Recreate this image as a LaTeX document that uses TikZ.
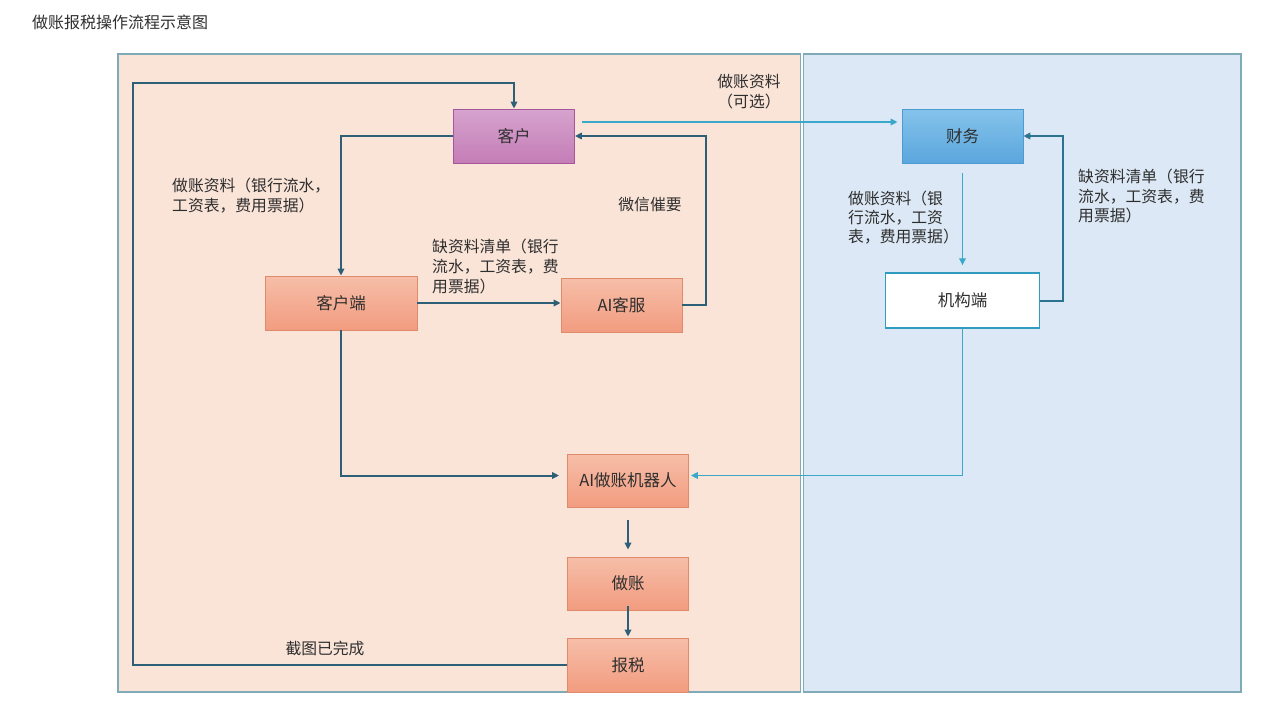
\documentclass[tikz,border=0pt]{standalone}
\usepackage{fontspec}
\setmainfont{Noto Sans CJK SC}
\usetikzlibrary{arrows.meta,calc}
\definecolor{peach}{HTML}{FAE4D8}
\definecolor{skyfill}{HTML}{DCE8F5}
\definecolor{panelline}{HTML}{7FAAB8}
\definecolor{darkline}{HTML}{2D5F77}
\definecolor{midline}{HTML}{2C7390}
\definecolor{lightline}{HTML}{3AA8C8}
\definecolor{txt}{HTML}{2E2E2E}
\definecolor{salmontop}{HTML}{F6BEA8}
\definecolor{salmonbot}{HTML}{F29C80}
\definecolor{salmonline}{HTML}{E08A6C}
\definecolor{purpletop}{HTML}{D6A3CE}
\definecolor{purplebot}{HTML}{C47DB6}
\definecolor{purpleline}{HTML}{A8569A}
\definecolor{bluetop}{HTML}{85C3EB}
\definecolor{bluebot}{HTML}{5AA6DD}
\definecolor{blueline}{HTML}{4C9BD1}
\definecolor{jgline}{HTML}{2E9BBF}
\tikzset{
  box/.style={rectangle, minimum width=121pt, minimum height=54pt, inner sep=0pt,
    font=\fontsize{16.5}{18}\selectfont, text=txt, line width=0.8pt},
  salmonbox/.style={box, draw=salmonline, top color=salmontop, bottom color=salmonbot},
  purplebox/.style={box, draw=purpleline, top color=purpletop, bottom color=purplebot},
  bluebox/.style={box, draw=blueline, top color=bluetop, bottom color=bluebot},
  whitebox/.style={box, draw=jgline, fill=white, line width=1.5pt},
  darkarrow/.style={draw=darkline, line width=2pt, -{Triangle[length=7pt,width=6.5pt]}},
  midarrow/.style={draw=midline, line width=2pt, -{Triangle[length=7pt,width=6.5pt]}},
  lightarrow/.style={draw=lightline, line width=1.9pt, -{Triangle[length=7pt,width=6.5pt]}},
  lbl/.style={font=\fontsize{15.8}{20}\selectfont, text=txt, align=left, inner sep=0pt, anchor=north west},
  panel/.style={draw=panelline, line width=1.2pt}
}
\begin{document}
\begin{tikzpicture}[x=1pt,y=-1pt]
\useasboundingbox (0,0) rectangle (1262,710);
\fill[white] (0,0) rectangle (1262,710);
% title
\node[font=\fontsize{16}{18}\selectfont, text=txt, anchor=west, inner sep=0pt] (title) at (32,22) {做账报税操作流程示意图};
% panels
\draw[panel, fill=peach] (118,54) rectangle (800.5,692);
\draw[panel, fill=skyfill] (803.5,54) rectangle (1241,692);
% nodes
\node[purplebox] (kh) at (514,136) {客户};
\node[bluebox] (cw) at (962.5,136) {财务};
\node[salmonbox, minimum width=152pt] (khd) at (341,303) {客户端};
\node[salmonbox] (aikf) at (621.5,305) {AI客服};
\node[whitebox, minimum width=154pt, minimum height=55pt] (jg) at (962.5,300.5) {机构端};
\node[salmonbox, minimum height=53pt] (rob) at (628,480.5) {AI做账机器人};
\node[salmonbox, minimum height=53pt] (zz) at (628,583.5) {做账};
\node[salmonbox] (bs) at (628,665) {报税};
% labels
\node[lbl] (l1) at (172,178) {做账资料（银行流水，\\工资表，费用票据）};
\node[lbl] (l2) at (432,239) {缺资料清单（银行\\流水，工资表，费\\用票据）};
\node[lbl, anchor=center] (l3) at (650,205) {微信催要};
\node[lbl, anchor=center, align=center] (l4) at (749,92) {做账资料\\（可选）};
\node[lbl, font=\fontsize{15.8}{19}\selectfont] (l5) at (848,191) {做账资料（银\\行流水，工资\\表，费用票据）};
\node[lbl, font=\fontsize{15.8}{19.5}\selectfont] (l6) at (1078,169) {缺资料清单（银行\\流水，工资表，费\\用票据）};
\node[lbl, anchor=center] (l7) at (325,648) {截图已完成};
% connectors
\coordinate (loopc) at (133,83);
\draw[darkarrow] (bs.west) -| (loopc) -| (kh.north);
\draw[darkarrow] (kh.west) -| (khd.north);
\draw[darkarrow] (khd.east) -- (khd.east -| aikf.west);
\draw[darkarrow] (aikf.east) -- ++(24,0) |- (kh.east);
\draw[lightarrow] ($(kh.east)+(7,-14)$) -- ($(cw.west)+(-4,-14)$);
\draw[lightarrow] ($(cw.south)+(0,10)$) -- ($(jg.north)+(0,-7)$);
\draw[midarrow] (jg.east) -- ++(23,0) |- (cw.east);
\draw[lightarrow] (jg.south) |- ($(rob.east)+(2,-5)$);
\draw[darkarrow] (khd.south) |- ($(rob.west)+(-8,-5)$);
\draw[darkarrow] ($(rob.south)+(0,13)$) -- ($(zz.north)+(0,-7)$);
\draw[darkarrow] ($(zz.south)+(0,-4)$) -- ($(bs.north)+(0,-1)$);
\end{tikzpicture}
\end{document}
